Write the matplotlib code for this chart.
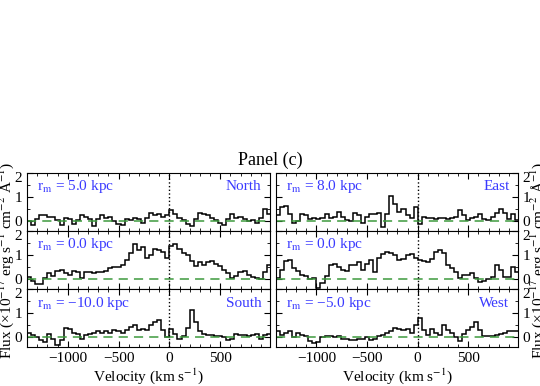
import numpy as np
import matplotlib.pyplot as plt
import matplotlib.transforms as mtransforms
from matplotlib.ticker import MultipleLocator

plt.rcParams['font.family'] = ['Liberation Serif', 'DejaVu Serif']
plt.rcParams['mathtext.fontset'] = 'stix'

# velocity bins (km/s): 60 bins of 40 km/s from -1400 to 1000
vel_edges = np.arange(-1400, 1001, 40)

flux_north = [0.0, -0.15, 0.1, 0.25, 0.25, 0.2, 0.2, 0.05, -0.15, 0.15,
              0.1, -0.1, 0.05, 0.25, 0.2, 0.1, -0.2, 0.1, 0.25, 0.15,
              0.2, 0.0, -0.1, -0.15, 0.1, 0.05, 0.15, 0.1, -0.05, 0.15,
              0.35, 0.25, 0.3, 0.2, 0.25, 0.45, 0.3, 0.15, 0.05, -0.1,
              -0.2, 0.1, 0.35, 0.3, 0.25, 0.15, 0.05, -0.05, -0.15, 0.1,
              0.3, 0.15, 0.2, 0.1, 0.0, 0.05, -0.05, 0.15, 0.5, 0.3]

flux_east = [0.25, 0.6, 0.65, 0.3, -0.05, 0.0, 0.3, 0.25, 0.1, 0.15,
             0.1, 0.15, 0.3, 0.15, 0.2, 0.4, 0.2, 0.05, 0.0, 0.35,
             0.25, -0.05, 0.2, 0.3, 0.3, 0.35, -0.25, 0.3, 1.05, 0.7,
             0.4, 0.5, 0.25, 0.15, 0.6, -0.1, 0.2, 0.15, 0.15, 0.1,
             0.15, 0.15, 0.1, 0.15, 0.2, 0.45, 0.25, 0.05, 0.15, 0.2,
             0.3, 0.1, 0.05, 0.2, 0.35, 0.5, 0.35, 0.1, 0.3, 0.05]

flux_center_l = [0.1, -0.05, -0.2, -0.2, 0.05, 0.25, 0.15, 0.35, 0.4, 0.25,
                 0.2, 0.35, 0.3, 0.05, 0.3, 0.3, 0.25, 0.3, 0.3, 0.35,
                 0.45, 0.5, 0.5, 0.6, 0.8, 1.1, 1.45, 1.2, 1.35, 0.9,
                 1.0, 1.25, 1.2, 1.15, 0.9, 1.4, 1.45, 1.25, 1.1, 1.0,
                 0.75, 0.55, 0.7, 0.6, 0.7, 0.75, 0.65, 0.55, 0.4, 0.25,
                 0.05, 0.15, 0.3, 0.35, 0.2, 0.1, 0.05, 0.0, 0.3, 0.6]

flux_center_r = [0.05, 0.4, 0.75, 0.8, 0.45, 0.35, 0.2, 0.15, 0.0, 0.05,
                 -0.35, -0.15, 0.15, 0.6, 0.65, 0.5, 0.4, 0.35, 0.6, 0.6,
                 0.7, 0.4, 0.65, 0.8, 0.3, 0.9, 1.05, 1.15, 1.1, 1.0,
                 0.8, 0.85, 1.0, 1.05, 0.9, 0.8, 0.75, 0.7, 0.85, 1.15,
                 1.2, 1.1, 0.6, 0.45, 0.3, 0.05, 0.2, 0.2, 0.25, 0.05,
                 -0.1, -0.05, 0.0, 0.1, 0.6, 0.4, 0.1, 0.1, 0.5, 0.3]

flux_south = [0.2, 0.1, 0.0, -0.1, -0.2, 0.15, -0.05, -0.3, -0.1, 0.4,
              0.35, 0.2, 0.15, -0.05, 0.1, 0.15, 0.2, 0.25, 0.2, 0.25,
              0.2, 0.3, 0.25, 0.2, 0.3, 0.45, 0.5, 0.3, 0.35, 0.3,
              0.5, 0.65, 0.7, 0.3, 0.0, 0.35, 0.15, -0.05, 0.05, 0.4,
              1.15, 0.65, 0.25, 0.15, 0.1, 0.1, 0.05, 0.05, 0.0, -0.1,
              -0.05, 0.15, 0.1, 0.1, 0.05, 0.1, 0.15, -0.05, 0.1, 0.15]

flux_west = [0.25, 0.1, 0.2, 0.25, 0.0, 0.2, 0.1, 0.05, -0.15, -0.25,
             -0.2, 0.0, 0.05, 0.05, 0.0, 0.05, -0.05, -0.05, -0.1, -0.1,
             -0.05, -0.05, 0.0, -0.1, -0.05, 0.05, 0.1, 0.2, 0.25, 0.4,
             0.35, 0.3, 0.35, 0.2, 0.5, 0.8, 0.3, 0.1, 0.35, 0.2,
             0.1, 0.5, 0.3, 0.2, 0.0, -0.15, 0.15, 0.3, 0.45, 0.65,
             0.3, 0.05, 0.05, 0.05, 0.1, 0.15, 0.2, 0.25, 0.25, 0.25]

radios = ['5.0', '8.0', '0.0', '0.0', '\u221210.0', '\u22125.0']
direcciones = ['North', 'East', '', '', 'South', 'West']
espectros = [flux_north, flux_east, flux_center_l, flux_center_r, flux_south, flux_west]

fig = plt.figure(figsize=(5.4, 3.86), dpi=100)

col_x = [0.05, 0.511]
col_w = [0.45, 0.448]
row_y = [0.4016, 0.2513, 0.101]
row_h = 0.150
azul = '#3a3aff'
# bajar un poco la etiqueta "2" para que no pise el "0" del panel de arriba
bajar = mtransforms.ScaledTranslation(0, -3 / 72, fig.dpi_scale_trans)

for i in range(6):
    fila = i // 2
    col = i % 2
    ax = fig.add_axes([col_x[col], row_y[fila], col_w[col], row_h])
    ax.stairs(espectros[i], vel_edges, color='k', linewidth=1.1)
    ax.axhline(0, color='#3d9a3d', linestyle=(0, (6, 4)), linewidth=1.1)
    ax.axvline(0, color='k', linestyle=':', linewidth=1.0)
    ax.set_xlim(-1400, 990)
    ax.set_ylim(-0.4, 2.0)
    ax.xaxis.set_major_locator(MultipleLocator(500))
    ax.xaxis.set_minor_locator(MultipleLocator(100))
    ax.yaxis.set_major_locator(MultipleLocator(1))
    ax.yaxis.set_minor_locator(MultipleLocator(0.5))
    ax.tick_params(which='both', direction='in', top=True, right=True, labelsize=11)
    ax.tick_params(which='major', length=4)
    ax.tick_params(which='minor', length=2)
    if col == 0:
        ax.tick_params(labelleft=True, labelright=False)
    else:
        ax.tick_params(labelleft=False, labelright=True)
    if fila < 2:
        ax.tick_params(labelbottom=False)
    else:
        ax.set_xlabel('Velocity (km s$^{-1}$)', fontsize=11, labelpad=1)
    ax.set_yticks([0, 1, 2])
    ax.set_yticklabels(['0', '1', '2'])
    tick2 = ax.yaxis.get_major_ticks()[2]
    tick2.label1.set_transform(tick2.label1.get_transform() + bajar)
    tick2.label2.set_transform(tick2.label2.get_transform() + bajar)
    ax.text(0.04, 0.76, r'r$_{\rm m}$ = ' + radios[i] + ' kpc', transform=ax.transAxes,
            color=azul, fontsize=11, ha='left', va='center')
    if direcciones[i]:
        ax.text(0.965, 0.76, direcciones[i], transform=ax.transAxes,
                color=azul, fontsize=11, ha='right', va='center')

fig.text(0.5, 0.585, 'Panel (c)', ha='center', va='center', fontsize=13)
etiqueta = 'Flux (\u00d710$^{-17}$ erg s$^{-1}$ cm$^{-2}$ \u00c5$^{-1}$)'
fig.text(0.012, 0.326, etiqueta, rotation=90, ha='center', va='center', fontsize=11)
fig.text(0.997, 0.326, etiqueta, rotation=90, ha='center', va='center', fontsize=11)

plt.savefig('out.png', dpi=100)
